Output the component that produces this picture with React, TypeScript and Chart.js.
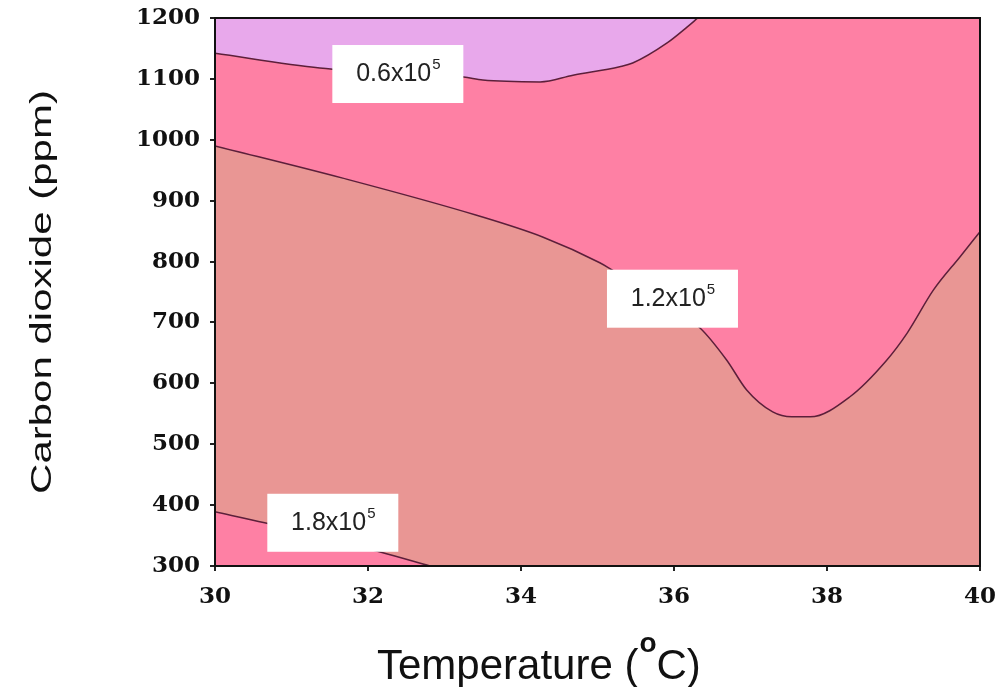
import React, { useEffect, useRef } from "react";
import { Chart, registerables } from "chart.js";

Chart.register(...registerables);

// ---- data ----
const X_MIN = 30;
const X_MAX = 40;
const X_STEP = 2;
const Y_MIN = 300;
const Y_MAX = 1200;
const Y_STEP = 100;

// contour 0.6x10^5 (region above is lavender)
const contour06X = [30, 31.37, 33.25, 33.5, 34.25, 34.68, 35.29, 35.46, 35.91, 36.17, 36.31];
const contour06Y = [1142, 1118, 1103, 1098, 1095, 1106, 1120, 1126, 1159, 1185, 1200];
// contour 1.2x10^5 (region above is pink)
const contour12X = [30, 31.67, 33.42, 34.29, 35.03, 35.14, 36.34, 36.69, 36.95, 37.29, 37.54, 37.78, 38.3, 38.78, 39.05, 39.39, 39.74, 40];
const contour12Y = [990, 937, 876, 840, 798, 790, 691, 638, 589, 553, 545, 545, 578, 638, 683, 753, 808, 849];
// contour 1.8x10^5 (region below is pink)
const contour18X = [30, 30.65, 32.16, 32.81];
const contour18Y = [389, 371, 323, 300];

// contour labels
const labelBase = ["0.6x10", "1.2x10", "1.8x10"];
const labelExp = ["5", "5", "5"];
const labelX = [32.39, 35.98, 31.54];
const labelY = [1108, 739, 371];

const xTitleMain = "Temperature (";
const xTitleDeg = "o";
const xTitleEnd = "C)";
const yTitle = "Carbon dioxide (ppm)";

// ---- styles ----
const LAVENDER = "#E8A8EB";
const PINK = "#FE80A4";
const SALMON = "#E99694";
const LINE = "#5C1F3A";
const TICK_FONT = { family: "'DejaVu Serif'", weight: "bold" as const, size: 23 };

const pts = (xs: number[], ys: number[]) => xs.map((x, i) => ({ x, y: ys[i] }));

const bgPlugin = {
  id: "bgPlugin",
  beforeDatasetsDraw(chart: any) {
    const { ctx, chartArea: a } = chart;
    ctx.save();
    ctx.fillStyle = SALMON;
    ctx.fillRect(a.left, a.top, a.right - a.left, a.bottom - a.top);
    ctx.restore();
  },
  afterDatasetsDraw(chart: any) {
    const { ctx, chartArea: a, scales } = chart;
    ctx.save();
    // frame
    ctx.strokeStyle = "#111";
    ctx.lineWidth = 2;
    ctx.strokeRect(a.left, a.top, a.right - a.left, a.bottom - a.top);
    // labels
    for (let i = 0; i < labelBase.length; i++) {
      const cx = scales.x.getPixelForValue(labelX[i]);
      const cy = scales.y.getPixelForValue(labelY[i]);
      const bw = 131;
      const bh = 58;
      ctx.fillStyle = "#FFFFFF";
      ctx.fillRect(cx - bw / 2, cy - bh / 2, bw, bh);
      ctx.font = "25px 'Liberation Sans'";
      const w1 = ctx.measureText(labelBase[i]).width;
      ctx.font = "15px 'Liberation Sans'";
      const w2 = ctx.measureText(labelExp[i]).width;
      const sx = cx - (w1 + w2) / 2;
      ctx.fillStyle = "#222";
      ctx.textAlign = "left";
      ctx.textBaseline = "alphabetic";
      ctx.font = "25px 'Liberation Sans'";
      ctx.fillText(labelBase[i], sx, cy + 7);
      ctx.font = "15px 'Liberation Sans'";
      ctx.fillText(labelExp[i], sx + w1 + 1, cy - 5);
    }
    ctx.restore();
  },
  afterDraw(chart: any) {
    const { ctx, chartArea: a } = chart;
    ctx.save();
    ctx.fillStyle = "#111";
    ctx.textBaseline = "alphabetic";
    ctx.textAlign = "left";
    // x title
    const bx = a.left + 162;
    const by = a.bottom + 113;
    ctx.font = "42px 'Liberation Sans'";
    ctx.fillText(xTitleMain, bx, by);
    const wm = ctx.measureText(xTitleMain).width;
    ctx.font = "bold 28px 'Liberation Sans'";
    ctx.fillText(xTitleDeg, bx + wm + 1, by - 27);
    const wd = ctx.measureText(xTitleDeg).width;
    ctx.font = "42px 'Liberation Sans'";
    ctx.fillText(xTitleEnd, bx + wm + wd + 1, by);
    // y title (rotated, stretched)
    ctx.translate(51, (a.top + a.bottom) / 2);
    ctx.rotate(-Math.PI / 2);
    ctx.scale(1.4, 1);
    ctx.font = "30px 'Liberation Sans'";
    ctx.textAlign = "center";
    ctx.fillText(yTitle, 0, 0);
    ctx.restore();
  },
};

const zeroPad = (s: any) => {
  s.paddingLeft = 0;
  s.paddingRight = 0;
  s.paddingTop = 0;
  s.paddingBottom = 0;
};

export default function App() {
  const ref = useRef<HTMLCanvasElement | null>(null);

  useEffect(() => {
    if (!ref.current) return;
    const chart = new Chart(ref.current, {
      type: "line",
      data: {
        datasets: [
          {
            label: "0.6x10^5",
            data: pts(contour06X, contour06Y),
            fill: "end",
            backgroundColor: LAVENDER,
            borderColor: LINE,
            borderWidth: 1.5,
            pointRadius: 0,
            cubicInterpolationMode: "monotone",
            order: 1,
          },
          {
            label: "1.2x10^5",
            data: pts(contour12X, contour12Y),
            fill: "end",
            backgroundColor: PINK,
            borderColor: LINE,
            borderWidth: 1.5,
            pointRadius: 0,
            cubicInterpolationMode: "monotone",
            order: 2,
          },
          {
            label: "1.8x10^5",
            data: pts(contour18X, contour18Y),
            fill: "start",
            backgroundColor: PINK,
            borderColor: LINE,
            borderWidth: 1.5,
            pointRadius: 0,
            cubicInterpolationMode: "monotone",
            order: 1,
          },
        ],
      },
      options: {
        animation: false,
        responsive: false,
        devicePixelRatio: 1,
        layout: { autoPadding: false, padding: { top: 18, right: 17, left: 0, bottom: 0 } },
        plugins: { legend: { display: false }, tooltip: { enabled: false } },
        scales: {
          x: {
            type: "linear",
            min: X_MIN,
            max: X_MAX,
            ticks: { stepSize: X_STEP, font: TICK_FONT, color: "#111", padding: 12, callback: (v: any) => String(v) },
            grid: { drawOnChartArea: false, drawTicks: true, tickLength: 5, color: "#222", lineWidth: 2 },
            border: { display: true, color: "#111", width: 2 },
            afterFit: (s: any) => {
              s.height = 121;
              zeroPad(s);
            },
          },
          y: {
            type: "linear",
            min: Y_MIN,
            max: Y_MAX,
            ticks: { stepSize: Y_STEP, font: TICK_FONT, color: "#111", padding: 10, callback: (v: any) => String(v) },
            grid: { drawOnChartArea: false, drawTicks: true, tickLength: 5, color: "#222", lineWidth: 2 },
            border: { display: true, color: "#111", width: 2 },
            afterFit: (s: any) => {
              s.width = 215;
              zeroPad(s);
            },
          },
        },
      },
      plugins: [bgPlugin],
    } as any);
    return () => chart.destroy();
  }, []);

  return (
    <div style={{ position: "absolute", left: 0, top: 0, width: 997, height: 687, background: "#fff" }}>
      <canvas ref={ref} width={997} height={687} style={{ display: "block" }} />
    </div>
  );
}
